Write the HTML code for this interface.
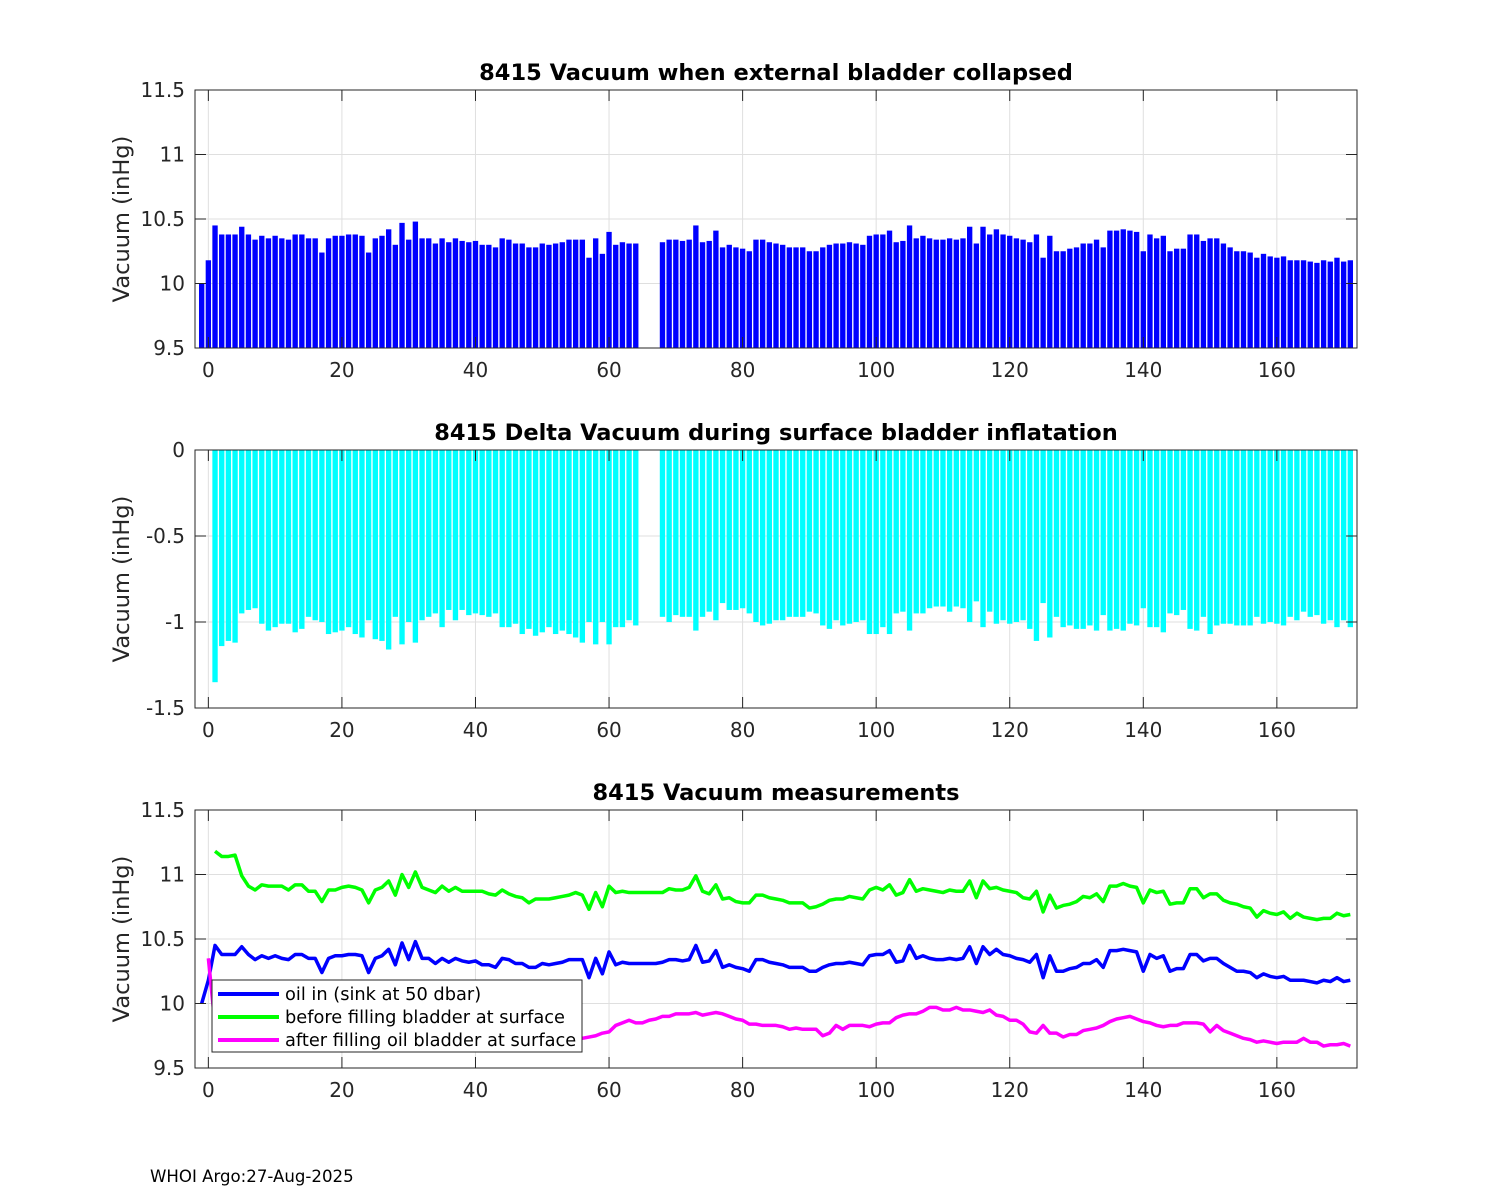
<!DOCTYPE html>
<html><head><meta charset="utf-8"><title>8415 Vacuum</title>
<style>
html,body{margin:0;padding:0;background:#fff;}
svg{display:block;font-family:"DejaVu Sans","Liberation Sans",sans-serif;}
</style></head>
<body>
<svg id="fig" width="1500" height="1200" viewBox="0 0 1500 1200">
<text x="150" y="1182" font-size="16.6" fill="#000">WHOI Argo:27-Aug-2025</text>
</svg>
<script>
// cycle numbers start at -1
const firstCycle = -1;
const xTicks = [0,20,40,60,80,100,120,140,160];
const yTicksVac = [9.5,10,10.5,11,11.5];
const yTickLabelsVac = ["9.5","10","10.5","11","11.5"];
const yTicksDelta = [-1.5,-1,-0.5,0];
const yTickLabelsDelta = ["-1.5","-1","-0.5","0"];

const vacuumCollapsed = [
10.00,10.18,10.45,10.38,10.38,10.38,10.44,10.38,10.34,10.37,
10.35,10.37,10.35,10.34,10.38,10.38,10.35,10.35,10.24,10.35,
10.37,10.37,10.38,10.38,10.37,10.24,10.35,10.37,10.42,10.30,
10.47,10.34,10.48,10.35,10.35,10.31,10.35,10.32,10.35,10.33,
10.32,10.33,10.30,10.30,10.28,10.35,10.34,10.31,10.31,10.28,
10.28,10.31,10.30,10.31,10.32,10.34,10.34,10.34,10.20,10.35,
10.23,10.40,10.30,10.32,10.31,10.31,
null,null,null,
10.32,10.34,10.34,10.33,10.34,10.45,10.32,10.33,10.41,10.28,
10.30,10.28,10.27,10.25,10.34,10.34,10.32,10.31,10.30,10.28,
10.28,10.28,10.25,10.25,10.28,10.30,10.31,10.31,10.32,10.31,
10.30,10.37,10.38,10.38,10.41,10.32,10.33,10.45,10.35,10.37,
10.35,10.34,10.34,10.35,10.34,10.35,10.44,10.31,10.44,10.38,10.42,
10.38,10.37,10.35,10.34,10.32,10.38,10.20,10.37,10.25,10.25,
10.27,10.28,10.31,10.31,10.34,10.28,10.41,10.41,10.42,10.41,
10.40,10.25,10.38,10.35,10.37,10.25,10.27,10.27,10.38,10.38,
10.33,10.35,10.35,10.31,10.28,10.25,10.25,10.24,10.20,10.23,
10.21,10.20,10.21,10.18,10.18,10.18,10.17,10.16,10.18,10.17,
10.20,10.17,10.18];

const deltaVacuum = [
null,null,
-1.35,-1.14,-1.11,-1.12,-0.95,-0.93,-0.92,-1.01,-1.05,-1.03,
-1.01,-1.01,-1.06,-1.04,-0.97,-0.99,-1.00,-1.07,-1.06,-1.05,
-1.03,-1.07,-1.09,-0.99,-1.10,-1.11,-1.16,-0.97,-1.13,-1.00,
-1.12,-0.99,-0.97,-0.95,-1.03,-0.93,-0.99,-0.93,-0.96,-0.95,
-0.96,-0.97,-0.95,-1.03,-1.03,-1.01,-1.07,-1.04,-1.08,-1.06,
-1.03,-1.07,-1.05,-1.07,-1.09,-1.12,-1.00,-1.13,-1.00,-1.13,
-1.03,-1.03,-0.99,-1.02,
null,null,null,
-0.97,-1.00,-0.96,-0.97,-0.97,-1.05,-0.97,-0.94,-0.99,-0.89,
-0.93,-0.93,-0.92,-0.95,-1.00,-1.02,-1.01,-0.99,-0.99,-0.97,
-0.97,-0.97,-0.94,-0.95,-1.02,-1.04,-0.99,-1.02,-1.01,-1.00,
-0.99,-1.07,-1.07,-1.03,-1.07,-0.95,-0.94,-1.05,-0.95,-0.95,
-0.92,-0.91,-0.91,-0.94,-0.91,-0.92,-1.00,-0.88,-1.03,-0.94,-1.01,
-0.99,-1.01,-1.00,-0.99,-1.04,-1.11,-0.89,-1.09,-0.97,-1.03,
-1.02,-1.04,-1.04,-1.02,-1.05,-0.96,-1.05,-1.04,-1.05,-1.01,
-1.02,-0.92,-1.03,-1.03,-1.06,-0.95,-0.96,-0.93,-1.04,-1.05,
-0.97,-1.07,-1.02,-1.01,-1.01,-1.02,-1.02,-1.02,-0.97,-1.01,
-1.00,-1.01,-1.02,-0.97,-0.99,-0.94,-0.97,-0.96,-1.01,-0.99,
-1.03,-0.99,-1.03];

const oilIn = [
10.00,10.18,10.45,10.38,10.38,10.38,10.44,10.38,10.34,10.37,
10.35,10.37,10.35,10.34,10.38,10.38,10.35,10.35,10.24,10.35,
10.37,10.37,10.38,10.38,10.37,10.24,10.35,10.37,10.42,10.30,
10.47,10.34,10.48,10.35,10.35,10.31,10.35,10.32,10.35,10.33,
10.32,10.33,10.30,10.30,10.28,10.35,10.34,10.31,10.31,10.28,
10.28,10.31,10.30,10.31,10.32,10.34,10.34,10.34,10.20,10.35,
10.23,10.40,10.30,10.32,10.31,10.31,
10.31,10.31,10.31,
10.32,10.34,10.34,10.33,10.34,10.45,10.32,10.33,10.41,10.28,
10.30,10.28,10.27,10.25,10.34,10.34,10.32,10.31,10.30,10.28,
10.28,10.28,10.25,10.25,10.28,10.30,10.31,10.31,10.32,10.31,
10.30,10.37,10.38,10.38,10.41,10.32,10.33,10.45,10.35,10.37,
10.35,10.34,10.34,10.35,10.34,10.35,10.44,10.31,10.44,10.38,10.42,
10.38,10.37,10.35,10.34,10.32,10.38,10.20,10.37,10.25,10.25,
10.27,10.28,10.31,10.31,10.34,10.28,10.41,10.41,10.42,10.41,
10.40,10.25,10.38,10.35,10.37,10.25,10.27,10.27,10.38,10.38,
10.33,10.35,10.35,10.31,10.28,10.25,10.25,10.24,10.20,10.23,
10.21,10.20,10.21,10.18,10.18,10.18,10.17,10.16,10.18,10.17,
10.20,10.17,10.18];

const beforeFilling = [
null,null,
11.18,11.14,11.14,11.15,10.99,10.91,10.88,10.92,10.91,10.91,
10.91,10.88,10.92,10.92,10.87,10.87,10.79,10.88,10.88,10.90,
10.91,10.90,10.88,10.78,10.88,10.90,10.95,10.84,11.00,10.90,
11.02,10.90,10.88,10.86,10.91,10.87,10.90,10.87,10.87,10.87,
10.87,10.85,10.84,10.88,10.85,10.83,10.82,10.78,10.81,10.81,
10.81,10.82,10.83,10.84,10.86,10.84,10.73,10.86,10.75,10.91,
10.86,10.87,10.86,10.86,
10.86,10.86,10.86,
10.86,10.89,10.88,10.88,10.90,10.99,10.87,10.85,10.92,10.81,
10.82,10.79,10.78,10.78,10.84,10.84,10.82,10.81,10.80,10.78,
10.78,10.78,10.74,10.75,10.77,10.80,10.81,10.81,10.83,10.82,
10.81,10.88,10.90,10.88,10.92,10.84,10.86,10.96,10.87,10.89,
10.88,10.87,10.86,10.88,10.87,10.87,10.95,10.82,10.95,10.89,10.90,
10.88,10.87,10.86,10.82,10.81,10.87,10.71,10.84,10.74,10.76,
10.77,10.79,10.83,10.82,10.85,10.79,10.91,10.91,10.93,10.91,
10.90,10.78,10.88,10.86,10.87,10.77,10.78,10.78,10.89,10.89,
10.82,10.85,10.85,10.80,10.78,10.77,10.75,10.74,10.67,10.72,
10.70,10.69,10.71,10.66,10.70,10.67,10.66,10.65,10.66,10.66,
10.70,10.68,10.69];

const afterFilling = [
null,10.35,
9.83,10.00,10.03,10.03,10.04,9.98,9.96,9.91,9.86,9.88,
9.90,9.87,9.86,9.88,9.90,9.88,9.79,9.81,9.82,9.85,
9.88,9.83,9.79,9.79,9.78,9.79,9.79,9.87,9.87,9.90,
9.90,9.91,9.91,9.91,9.88,9.94,9.91,9.94,9.91,9.92,
9.91,9.88,9.89,9.85,9.82,9.82,9.75,9.74,9.73,9.75,
9.78,9.75,9.78,9.77,9.77,
9.73,9.74,9.75,9.77,9.78,9.83,9.85,9.87,9.85,9.85,
9.87,9.88,9.90,9.90,9.92,9.92,9.92,9.93,9.91,9.92,
9.93,9.92,9.90,9.88,9.87,9.84,9.84,9.83,9.83,9.83,
9.82,9.80,9.81,9.80,9.80,9.80,9.75,9.77,9.83,9.80,
9.83,9.83,9.83,9.82,9.84,9.85,9.85,9.89,9.91,9.92,
9.92,9.94,9.97,9.97,9.95,9.95,9.97,9.95,9.95,9.94,
9.93,9.95,9.91,9.90,9.87,9.87,9.84,9.78,9.77,9.83,
9.77,9.77,9.74,9.76,9.76,9.79,9.80,9.81,9.83,9.86,
9.88,9.89,9.90,9.88,9.86,9.85,9.83,9.82,9.83,9.83,
9.85,9.85,9.85,9.84,9.78,9.83,9.79,9.77,9.75,9.73,
9.72,9.70,9.71,9.70,9.69,9.70,9.70,9.70,9.73,9.70,
9.70,9.67,9.68,9.68,9.69,9.67];

const NS = "http://www.w3.org/2000/svg";
const svg = document.getElementById("fig");
const L = 195, R = 1357, XMIN = -2, XMAX = 172;
function xs(v){ return L + (v - XMIN) / (XMAX - XMIN) * (R - L); }
function mk(tag, attrs, parent){
  const e = document.createElementNS(NS, tag);
  for (const k in attrs) e.setAttribute(k, attrs[k]);
  (parent || svg).appendChild(e);
  return e;
}

function makeAxes(top, bot, ymin, ymax, yticks, ylabels, title, key){
  const ys = v => bot - (v - ymin) / (ymax - ymin) * (bot - top);
  const g = mk("g", {});
  
  
  mk("rect", {x:L, y:top, width:R-L, height:bot-top, fill:"#fff"}, g);
  xTicks.forEach(t => {
    const gl = mk("line", {x1:xs(t), x2:xs(t), y1:top, y2:bot, stroke:"#dfdfdf", "stroke-width":1}, g);
    
    
  });
  yticks.forEach(t => {
    const gl = mk("line", {x1:L, x2:R, y1:ys(t), y2:ys(t), stroke:"#dfdfdf", "stroke-width":1}, g);
    
    
  });
  return {g, ys, top, bot, key, yticks, ylabels, title};
}
function finishAxes(ax){
  const {g, ys, top, bot, key, yticks, ylabels, title} = ax;
  const fr = mk("g", {});
  mk("rect", {x:L, y:top, width:R-L, height:bot-top, fill:"none", stroke:"#262626", "stroke-width":1}, fr);
  xTicks.forEach(t => {
    mk("line", {x1:xs(t), x2:xs(t), y1:bot, y2:bot-11, stroke:"#262626"}, fr);
    mk("line", {x1:xs(t), x2:xs(t), y1:top, y2:top+11, stroke:"#262626"}, fr);
    const tx = mk("text", {x:xs(t), y:bot+29, "font-size":20, "text-anchor":"middle", fill:"#262626"}, fr);
    tx.textContent = String(t);
    
    
  });
  yticks.forEach((t, i) => {
    mk("line", {x1:L, x2:L+11, y1:ys(t), y2:ys(t), stroke:"#262626"}, fr);
    mk("line", {x1:R, x2:R-11, y1:ys(t), y2:ys(t), stroke:"#262626"}, fr);
    const tx = mk("text", {x:L-10, y:ys(t)+7, "font-size":20, "text-anchor":"end", fill:"#262626"}, fr);
    tx.textContent = ylabels[i];
    
    
  });
  const yl = mk("text", {x:0, y:0, "font-size":22.5, "text-anchor":"middle", fill:"#262626",
    transform:"translate(129," + ((top+bot)/2) + ") rotate(-90)"}, fr);
  yl.textContent = "Vacuum (inHg)";
  
  
  const tt = mk("text", {x:(L+R)/2, y:top-10, "font-size":22.5, "font-weight":"bold", "text-anchor":"middle", fill:"#000"}, fr);
  tt.textContent = title;
  
  
}

const BW = 0.8;
// Chart 1
const a1 = makeAxes(90, 348, 9.5, 11.5, yTicksVac, yTickLabelsVac, "8415 Vacuum when external bladder collapsed", "collapsed");
vacuumCollapsed.forEach((v, i) => {
  if (v === null) return;
  const c = firstCycle + i;
  const y = a1.ys(v);
  const b = mk("rect", {x:xs(c - BW/2), y:y, width:xs(c + BW/2) - xs(c - BW/2), height:a1.bot - y, fill:"#0000ff"}, a1.g);
  
  
});
finishAxes(a1);

// Chart 2
const a2 = makeAxes(450, 708, -1.5, 0, yTicksDelta, yTickLabelsDelta, "8415 Delta Vacuum during surface bladder inflatation", "delta");
deltaVacuum.forEach((v, i) => {
  if (v === null) return;
  const c = firstCycle + i;
  const y0 = a2.ys(0), y = a2.ys(v);
  const b = mk("rect", {x:xs(c - BW/2), y:y0, width:xs(c + BW/2) - xs(c - BW/2), height:y - y0, fill:"#00ffff"}, a2.g);
  
  
});
finishAxes(a2);

// Chart 3
const a3 = makeAxes(810, 1068, 9.5, 11.5, yTicksVac, yTickLabelsVac, "8415 Vacuum measurements", "measurements");
function linePath(arr){
  let d = "";
  arr.forEach((v, i) => {
    if (v === null) return;
    d += (d ? "L" : "M") + xs(firstCycle + i).toFixed(2) + "," + a3.ys(v).toFixed(2);
  });
  return d;
}
const clip = mk("clipPath", {id:"c3"});
mk("rect", {x:L, y:810, width:R-L, height:258}, clip);
const lOil = mk("path", {d:linePath(oilIn), fill:"none", stroke:"#0000ff", "stroke-width":3.5, "stroke-linejoin":"round", "clip-path":"url(#c3)"}, a3.g);


const lBefore = mk("path", {d:linePath(beforeFilling), fill:"none", stroke:"#00ff00", "stroke-width":3.5, "stroke-linejoin":"round", "clip-path":"url(#c3)"}, a3.g);


const lAfter = mk("path", {d:linePath(afterFilling), fill:"none", stroke:"#ff00ff", "stroke-width":3.5, "stroke-linejoin":"round", "clip-path":"url(#c3)"}, a3.g);


finishAxes(a3);

// Legend
const lg = mk("g", {});


mk("rect", {x:212, y:980, width:370, height:72, fill:"#fff", stroke:"#262626", "stroke-width":1}, lg);
const legendLabels = ["oil in (sink at 50 dbar)", "before filling bladder at surface", "after filling oil bladder at surface"];
const legendColors = ["#0000ff", "#00ff00", "#ff00ff"];
legendLabels.forEach((s, i) => {
  const y = 994 + i * 23;
  mk("line", {x1:218, x2:279, y1:y, y2:y, stroke:legendColors[i], "stroke-width":4}, lg);
  const t = mk("text", {x:285, y:y + 6, "font-size":17.8, fill:"#000"}, lg);
  t.textContent = s;
  
  
});
</script>
</body></html>
